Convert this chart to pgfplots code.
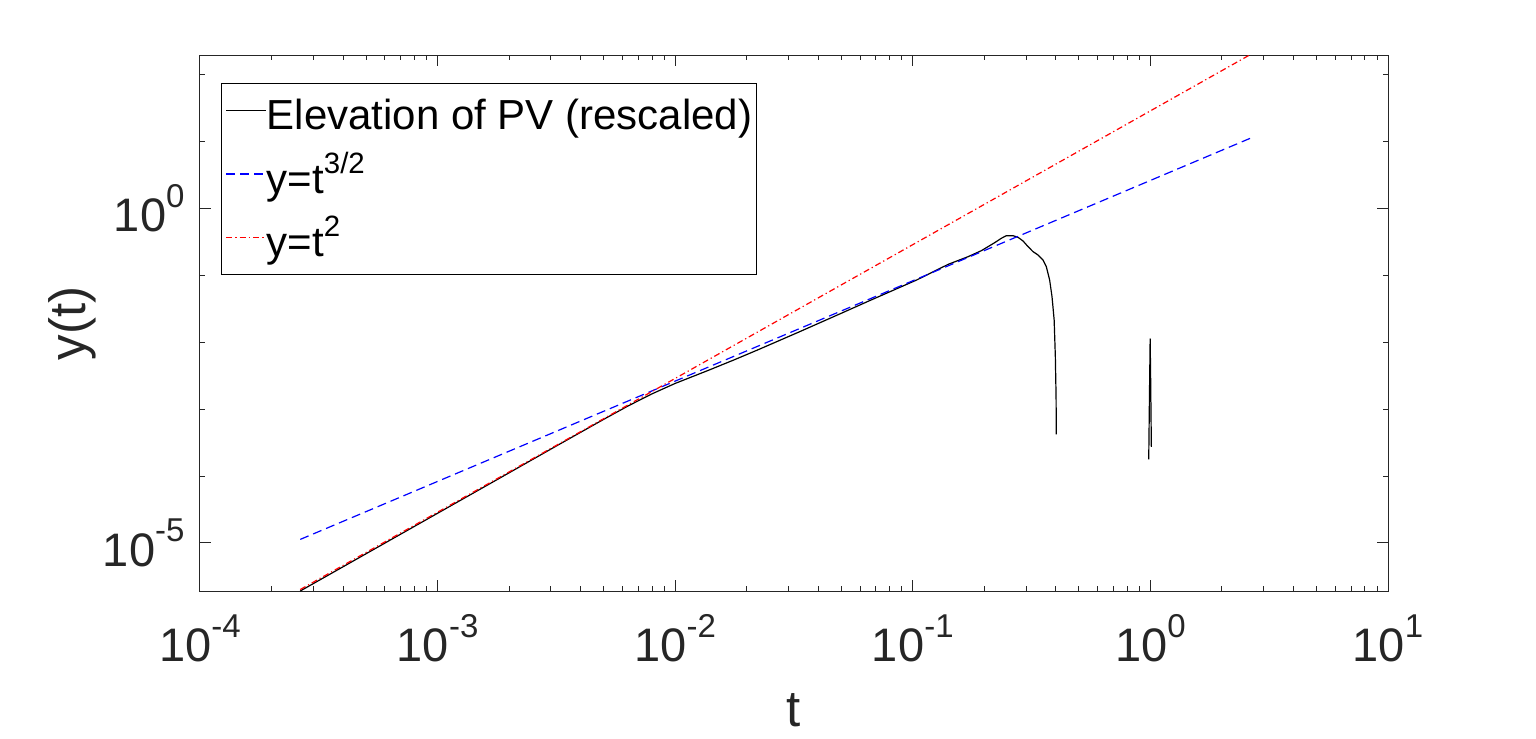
\documentclass[border=0pt]{standalone}
\usepackage{fontspec}
\setmainfont{Liberation Sans}
\usepackage{pgfplots}
\pgfplotsset{compat=1.18}
\definecolor{axgray}{RGB}{38,38,38}
\newcommand{\tp}[1]{10\raisebox{12.2bp}{\fontsize{16.5bp}{16.5bp}\selectfont #1}}
\newcommand{\lsup}[1]{\raisebox{10bp}{\fontsize{14.7bp}{14.7bp}\selectfont #1}}

\begin{document}
\begin{tikzpicture}
\path[use as bounding box] (0,0) rectangle (768bp,369.5bp);
\begin{axis}[
  at={(100bp,74bp)}, anchor=south west,
  scale only axis, width=594bp, height=267.75bp,
  xmode=log, ymode=log,
  xmin=1e-4, xmax=10, ymin=1.914e-6, ymax=193.6,
  axis line style={draw=axgray, line width=0.5bp},
  xtick={1e-4,1e-3,1e-2,1e-1,1,10},
  xticklabels={\tp{-4},\tp{-3},\tp{-2},\tp{-1},\tp{0},\tp{1}},
  minor xtick={2e-4,3e-4,4e-4,5e-4,6e-4,7e-4,8e-4,9e-4,
               2e-3,3e-3,4e-3,5e-3,6e-3,7e-3,8e-3,9e-3,
               0.02,0.03,0.04,0.05,0.06,0.07,0.08,0.09,
               0.2,0.3,0.4,0.5,0.6,0.7,0.8,0.9,
               2,3,4,5,6,7,8,9},
  ytick={1e-5,1},
  yticklabels={\tp{-5},\tp{0}},
  minor ytick={1e-4,1e-3,1e-2,1e-1,10,100},
  tick style={draw=axgray, line width=0.5bp},
  major tick length=5.5bp, minor tick length=2.5bp,
  tick align=inside,
  xticklabel style={font=\fontsize{23.5bp}{23.5bp}\selectfont, text=axgray, inner sep=0pt, anchor=north, yshift=-11.5bp},
  yticklabel style={font=\fontsize{23.5bp}{23.5bp}\selectfont, text=axgray, inner sep=0pt, anchor=east, xshift=-7.5bp},
  xlabel={t}, ylabel={y(t)},
  label style={font=\fontsize{25.5bp}{25.5bp}\selectfont, text=axgray},
  xlabel style={at={(axis description cs:0.5,-0.2534)}, anchor=base},
  ylabel style={at={(axis description cs:-0.0960,0.5)}, anchor=base},
  legend style={at={(axis description cs:0.0177,0.9486)}, anchor=north west,
    draw=black, line width=0.5bp, fill=white,
    inner xsep=1.9bp, inner ysep=0pt, row sep=0pt, column sep=0pt,
    font=\fontsize{21bp}{21bp}\selectfont,
    cells={anchor=base west},
    nodes={inner sep=0pt, text height=23bp, text depth=8.75bp}},
  legend image code/.code={\draw[#1] (0bp,9.5bp) -- (20bp,9.5bp);},
]
\addplot[color=black, line width=0.6bp, line join=round] coordinates {
(2.642e-4,1.914e-6) (1.0e-3,2.780e-5) (1.778e-3,8.831e-5) (3.273e-3,3.020e-4)
(5.012e-3,7.079e-4) (6.310e-3,1.109e-3) (7.943e-3,1.679e-3) (1.0e-2,2.427e-3)
(1.259e-2,3.350e-3) (1.400e-2,3.890e-3) (1.778e-2,5.495e-3) (2.239e-2,7.762e-3)
(3.350e-2,1.445e-2) (5.012e-2,2.723e-2) (6.607e-2,4.217e-2)
(0.1038,8.531e-2) (0.1409,0.1462) (0.1710,0.1905) (0.1945,0.2344)
(0.2213,0.3090) (0.2360,0.3589) (0.2477,0.3926) (0.2642,0.3926)
(0.2773,0.3707) (0.2911,0.3266) (0.3055,0.2692) (0.3206,0.2265)
(0.3365,0.2018) (0.3532,0.1698) (0.3648,0.1349) (0.3767,0.08531)
(0.3855,0.04808) (0.3936,0.02153) (0.3981,6.095e-3) (0.4009,1.538e-3)
(0.4018,4.207e-4)
};
\addlegendentry{Elevation of PV (rescaled)}
\addplot[color=blue, line width=0.6bp, dash pattern=on 4.5bp off 2.5bp] coordinates {
(2.642e-4,1.130e-5) (2.642,11.27)
};
\addlegendentry{y=t\lsup{3/2}}
\addplot[color=red, line width=0.6bp, dash pattern=on 3bp off 1.5bp on 0.6bp off 1.5bp,
  legend image code/.code={\draw[color=red, line width=0.7bp, dash pattern=on 3bp off 1.5bp on 0.8bp off 1.5bp] (0bp,9.5bp) -- (20bp,9.5bp);}] coordinates {
(2.642e-4,2.014e-6) (2.642,200.9)
};
\addlegendentry{y=t\lsup{2}}
\addplot[color=black, line width=0.6bp, line join=round, forget plot] coordinates {
(0.9840,1.778e-4) (0.9908,1.496e-3) (0.9977,1.122e-2) (1.0023,3.0e-3) (1.0093,2.723e-4)
};
\end{axis}
\end{tikzpicture}
\end{document}
